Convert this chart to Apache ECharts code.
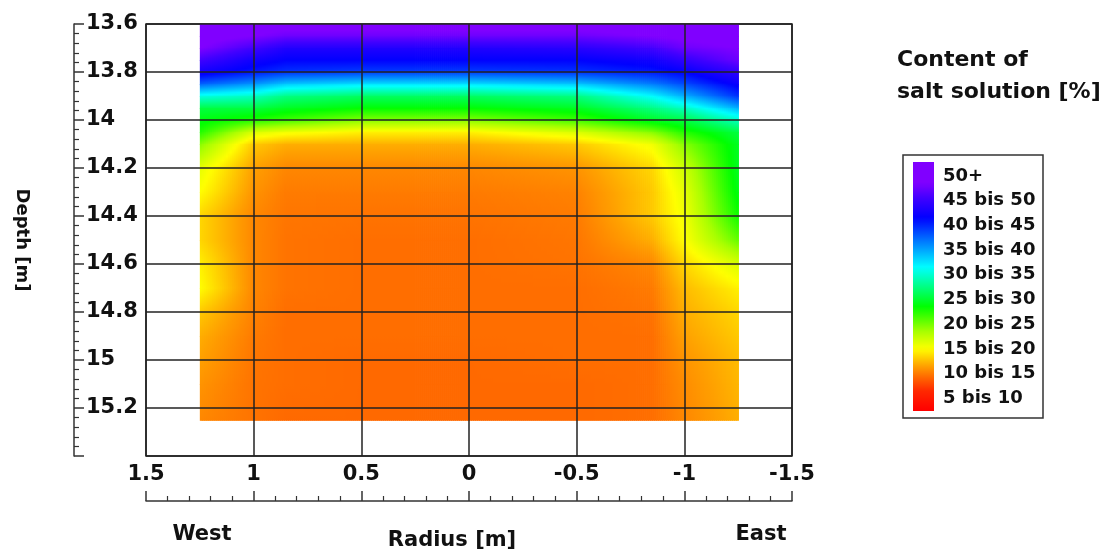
<!DOCTYPE html>
<html>
<head>
<meta charset="utf-8">
<title>Content of salt solution</title>
<script src="https://cdn.jsdelivr.net/npm/echarts@6/dist/echarts.min.js"></script>
<style>
html, body { margin: 0; padding: 0; background: #fff; }
#chart { width: 1107px; height: 552px; }
</style>
</head>
<body>
<div id="chart"></div>
<script>
const radii = [1.25, 1.0, 0.85, 0.5, 0, -0.5, -0.85, -1.0, -1.25];
const depths = [13.6, 13.65, 13.7, 13.75, 13.8, 13.85, 13.9, 13.95, 14.0, 14.05, 14.1,
	14.2, 14.3, 14.4, 14.5, 14.6, 14.7, 14.8, 14.9, 15.0, 15.1, 15.25];
// salt content [%], one row per depth, one column per radius
const salt = [
	[52, 52, 52, 52, 52, 52, 52, 52, 52],
	[52, 51, 50, 50, 50, 50, 51, 51.5, 52],
	[51, 48, 46, 46, 46, 46.5, 48, 50, 51],
	[48, 45, 44, 44, 44, 44, 45, 47, 50],
	[45, 43, 42, 41.5, 41.5, 42, 43, 44, 47],
	[40, 38, 36, 35, 35, 36, 39, 41, 44.5],
	[33, 32, 30, 29, 29, 30, 34, 37, 42],
	[28, 28, 27, 26, 26, 27, 30, 32, 37],
	[26.5, 25, 24, 22, 22, 24, 27, 28, 32],
	[25, 19, 18, 17, 17, 19, 22, 25, 28],
	[22, 15.5, 14.5, 14.5, 14.5, 15.5, 18, 22, 27],
	[18.5, 14, 13, 13, 13, 13.5, 16, 19.5, 27],
	[17.5, 13.5, 12.5, 12.5, 12.5, 12.8, 15.5, 18.5, 26.5],
	[16, 13, 12.3, 12.2, 12.2, 12.5, 15.5, 18, 25.5],
	[16, 13, 12.2, 12, 12, 12.3, 14.5, 17.5, 23],
	[17, 13, 12.2, 12, 12, 12.2, 13, 16, 19],
	[17.5, 13, 12.2, 12, 12, 12, 12.5, 15, 17],
	[15.5, 12.8, 12, 12, 12, 12, 12.2, 14.5, 16],
	[14.5, 12.5, 12, 12, 12, 12, 12, 14, 15.5],
	[14, 12.3, 12, 11.8, 11.8, 12, 12, 13.5, 15],
	[13.5, 12.2, 12, 11.8, 11.8, 11.8, 12, 13.2, 14.8],
	[13, 12.2, 11.8, 11.8, 11.8, 11.8, 12, 13, 14.5]
];
const legendLabels = ['50+', '45 bis 50', '40 bis 45', '35 bis 40', '30 bis 35',
	'25 bis 30', '20 bis 25', '15 bis 20', '10 bis 15', '5 bis 10'];

// colour scale
const cmapValues = [5, 9, 12, 14, 17.5, 21, 26, 31, 34, 39, 44, 48, 51];
const cmapColors = ['#ff0000', '#ff2800', '#ff6e00', '#ffa000', '#ffff00', '#a8ff00', '#00ff00',
	'#00ffa0', '#00ffff', '#0080ff', '#0000ff', '#4000ff', '#8000ff'];

const FONT = '"DejaVu Sans", sans-serif';

function hexToRgb(h) {
	return [parseInt(h.slice(1, 3), 16), parseInt(h.slice(3, 5), 16), parseInt(h.slice(5, 7), 16)];
}
const cmapRgb = cmapColors.map(hexToRgb);

function colorOf(v) {
	if (v <= cmapValues[0]) return cmapColors[0];
	for (let k = 1; k < cmapValues.length; k++) {
		if (v <= cmapValues[k]) {
			const t = (v - cmapValues[k - 1]) / (cmapValues[k] - cmapValues[k - 1]);
			const a = cmapRgb[k - 1], b = cmapRgb[k];
			return 'rgb(' + Math.round(a[0] + (b[0] - a[0]) * t) + ',' +
				Math.round(a[1] + (b[1] - a[1]) * t) + ',' +
				Math.round(a[2] + (b[2] - a[2]) * t) + ')';
		}
	}
	return cmapColors[cmapColors.length - 1];
}

// one cell between neighbouring grid nodes
const cells = [];
for (let j = 0; j < depths.length - 1; j++) {
	for (let i = 0; i < radii.length - 1; i++) {
		cells.push([radii[i], depths[j], radii[i + 1], depths[j + 1], i, j]);
	}
}

// fill a cell: narrow strips, each shaded top to bottom
function renderCell(params, api) {
	const i = api.value(4), j = api.value(5);
	const a = api.coord([api.value(0), api.value(1)]);
	const b = api.coord([api.value(2), api.value(3)]);
	const x0 = Math.min(a[0], b[0]), x1 = Math.max(a[0], b[0]);
	const y0 = Math.min(a[1], b[1]), y1 = Math.max(a[1], b[1]);
	const n = Math.max(1, Math.round((x1 - x0) / 2));
	const w = (x1 - x0) / n;
	const children = [];
	for (let k = 0; k < n; k++) {
		const t = (k + 0.5) / n;
		const vt = salt[j][i] + (salt[j][i + 1] - salt[j][i]) * t;
		const vb = salt[j + 1][i] + (salt[j + 1][i + 1] - salt[j + 1][i]) * t;
		const stops = [];
		for (let s = 0; s <= 6; s++) {
			stops.push({ offset: s / 6, color: colorOf(vt + (vb - vt) * s / 6) });
		}
		children.push({
			type: 'rect',
			shape: { x: x0 + k * w, y: y0, width: w + 0.8, height: y1 - y0 + 0.8 },
			style: { fill: new echarts.graphic.LinearGradient(0, 0, 0, 1, stops) }
		});
	}
	return { type: 'group', children: children };
}

// legend colour bar
const barTop = 162, barHeight = 249;
const barStops = [];
for (let s = 0; s <= 50; s++) {
	const y = barTop + barHeight * s / 50;
	const v = 47.5 - (y - 200.7) / 4.94;
	barStops.push({ offset: s / 50, color: colorOf(v) });
}

const labelStyle = { fontFamily: FONT, fontWeight: 'bold', fontSize: 21, color: '#111' };

function txt(x, y, text, size, align, extra) {
	return Object.assign({
		type: 'text', x: x, y: y,
		style: {
			text: text, font: 'bold ' + size + 'px ' + FONT, fill: '#111',
			align: align, verticalAlign: 'middle', textAlign: align, textVerticalAlign: 'middle'
		}
	}, extra || {});
}

const graphics = [
	{ type: 'rect', shape: { x: 903, y: 155, width: 140, height: 263 },
		style: { fill: '#fff', stroke: '#333', lineWidth: 1.5 } },
	{ type: 'rect', shape: { x: 913, y: barTop, width: 21, height: barHeight },
		style: { fill: new echarts.graphic.LinearGradient(0, 0, 0, 1, barStops) } },
	txt(897, 60, 'Content of', 22, 'left'),
	txt(897, 92, 'salt solution [%]', 22, 'left'),
	txt(202, 535, 'West', 21, 'center'),
	txt(761, 535, 'East', 21, 'center'),
	txt(452, 541, 'Radius [m]', 21, 'center'),
	txt(22, 240, 'Depth [m]', 18, 'center', { rotation: -Math.PI / 2 })
];
legendLabels.forEach(function (label, k) {
	graphics.push(txt(943, 176 + 24.7 * k, label, 18, 'left'));
});

const myChart = echarts.init(document.getElementById('chart'), null, { renderer: 'canvas' });

const option = {
	animation: false,
	backgroundColor: '#fff',
	grid: {
		left: 146, right: 315, top: 24, bottom: 96,
		show: true, borderColor: '#222', borderWidth: 1.5, backgroundColor: 'transparent'
	},
	xAxis: [
		{
			// grid lines and numbers
			type: 'value', min: -1.5, max: 1.5, interval: 0.5, inverse: true, z: 5,
			axisLine: { show: false, onZero: false },
			axisTick: { show: false },
			axisLabel: Object.assign({ margin: 8 }, labelStyle),
			splitLine: { show: true, lineStyle: { color: '#222', width: 1.5 } }
		},
		{
			// ruler below the numbers
			type: 'value', min: -1.5, max: 1.5, interval: 0.5, inverse: true,
			position: 'bottom', offset: 45,
			axisLine: { show: true, onZero: false, lineStyle: { color: '#333', width: 1.5 } },
			axisTick: { show: true, inside: true, length: 10, lineStyle: { color: '#333', width: 1.5 } },
			minorTick: { show: true, splitNumber: 5, length: 5, lineStyle: { color: '#333', width: 1.2 } },
			axisLabel: { show: false },
			splitLine: { show: false }
		}
	],
	yAxis: [
		{
			type: 'value', min: 13.6, max: 15.4, interval: 0.2, inverse: true, z: 5,
			axisLine: { show: false, onZero: false },
			axisTick: { show: false },
			axisLabel: { show: false },
			splitLine: { show: true, lineStyle: { color: '#222', width: 1.5 } }
		},
		{
			// depth ruler with labels
			type: 'value', min: 13.6, max: 15.4, interval: 0.2, inverse: true,
			position: 'left', offset: 72,
			axisLine: { show: true, onZero: false, lineStyle: { color: '#333', width: 1.5 } },
			axisTick: { show: true, inside: true, length: 10, lineStyle: { color: '#333', width: 1.5 } },
			minorTick: { show: true, splitNumber: 5, length: 5, lineStyle: { color: '#333', width: 1.2 } },
			axisLabel: Object.assign({
				inside: true, margin: 12,
				formatter: function (v) { return v > 15.3 ? '' : String(+v.toFixed(1)); }
			}, labelStyle),
			splitLine: { show: false }
		}
	],
	series: [
		{
			name: 'salt',
			type: 'custom',
			xAxisIndex: 0,
			yAxisIndex: 0,
			renderItem: renderCell,
			encode: { x: [0, 2], y: [1, 3] },
			data: cells,
			z: 2
		}
	],
	graphic: graphics
};

myChart.setOption(option);
</script>
</body>
</html>
